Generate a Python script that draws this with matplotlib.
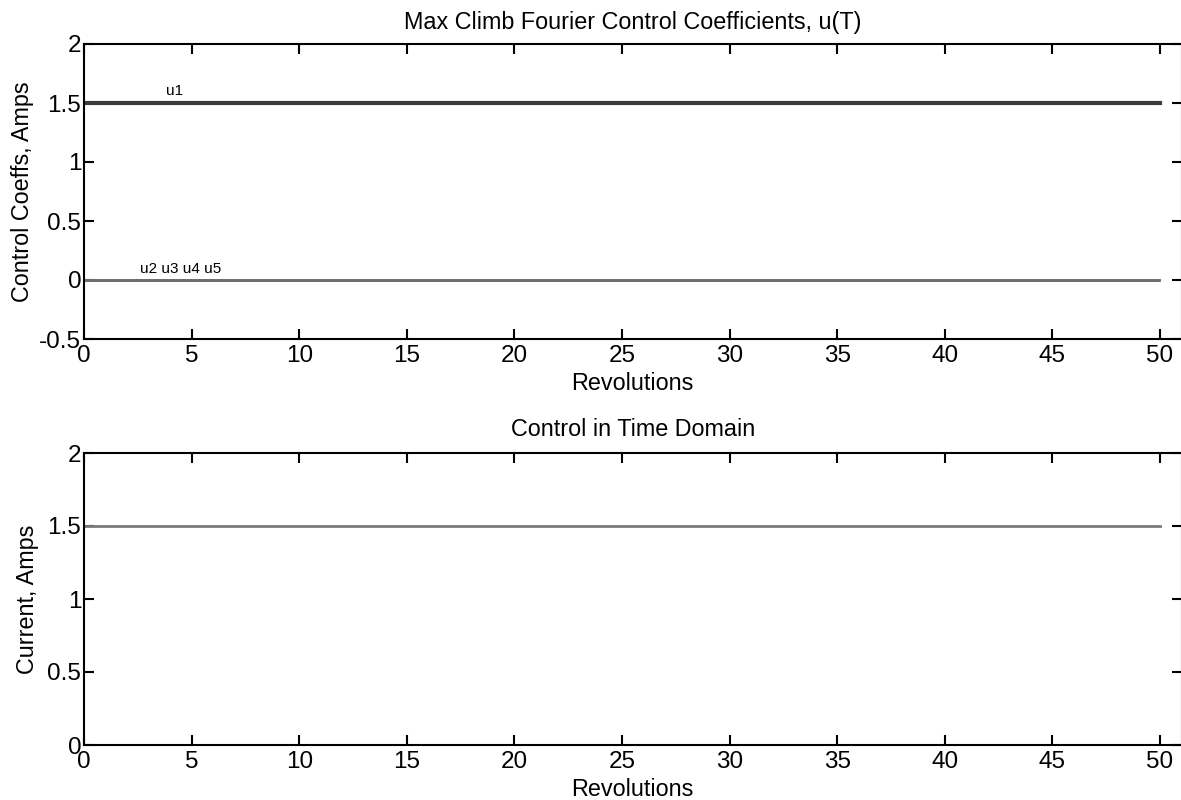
import matplotlib
matplotlib.use("Agg")
import matplotlib.pyplot as plt

plt.rcParams['font.family'] = ['Liberation Sans', 'DejaVu Sans']

# Data
revolutions = [0, 50]
u1 = [1.5, 1.5]
u2 = [0.0, 0.0]
u3 = [0.0, 0.0]
u4 = [0.0, 0.0]
u5 = [0.0, 0.0]
current = [1.5, 1.5]
x_ticks = [0, 5, 10, 15, 20, 25, 30, 35, 40, 45, 50]
top_yticks = [-0.5, 0, 0.5, 1, 1.5, 2]
bottom_yticks = [0, 0.5, 1, 1.5, 2]

fig = plt.figure(figsize=(11.81, 8.0), dpi=100)
W, H = 1181.0, 800.0
left = 84 / W
width = (1181.5 - 84) / W
ax1 = fig.add_axes([left, 1 - 339 / H, width, (339 - 44) / H])
ax2 = fig.add_axes([left, 1 - 745 / H, width, (745 - 453) / H])

FS = 16.8

# Top panel
for u in (u2, u3, u4, u5):
    ax1.plot(revolutions, u, color='#6e6e6e', lw=2.0, solid_capstyle='butt')
ax1.plot(revolutions, u1, color='#3c3c3c', lw=3.0, solid_capstyle='projecting')
ax1.text(3.8, 1.54, 'u1', fontsize=11, ha='left', va='bottom')
ax1.text(2.6, 0.03, 'u2 u3 u4 u5', fontsize=11, ha='left', va='bottom')
ax1.set_xlim(0, 51)
ax1.set_ylim(-0.5, 2)
ax1.set_yticks(top_yticks)
ax1.set_yticklabels(['-0.5', '0', '0.5', '1', '1.5', '2'])
ax1.set_xticks(x_ticks)
ax1.set_title('Max Climb Fourier Control Coefficients, u(T)', fontsize=FS, pad=11)
ax1.set_xlabel('Revolutions', fontsize=FS, labelpad=4)
ax1.set_ylabel('Control Coeffs, Amps', fontsize=FS, labelpad=4)

# Bottom panel
ax2.plot(revolutions, current, color='#7a7a7a', lw=2.0)
ax2.set_xlim(0, 51)
ax2.set_ylim(0, 2)
ax2.set_yticks(bottom_yticks)
ax2.set_yticklabels(['0', '0.5', '1', '1.5', '2'])
ax2.set_xticks(x_ticks)
ax2.set_title('Control in Time Domain', fontsize=FS, pad=12)
ax2.set_xlabel('Revolutions', fontsize=FS, labelpad=4)
ax2.set_ylabel('Current, Amps', fontsize=FS, labelpad=6)

for ax in (ax1, ax2):
    ax.tick_params(direction='in', length=7, width=1.5, top=True, right=True,
                   labelsize=17.5)
    ax.tick_params(axis='x', pad=4)
    ax.tick_params(axis='y', pad=2)
    for s in ax.spines.values():
        s.set_linewidth(1.5)

fig.savefig('out.png', dpi=100)
